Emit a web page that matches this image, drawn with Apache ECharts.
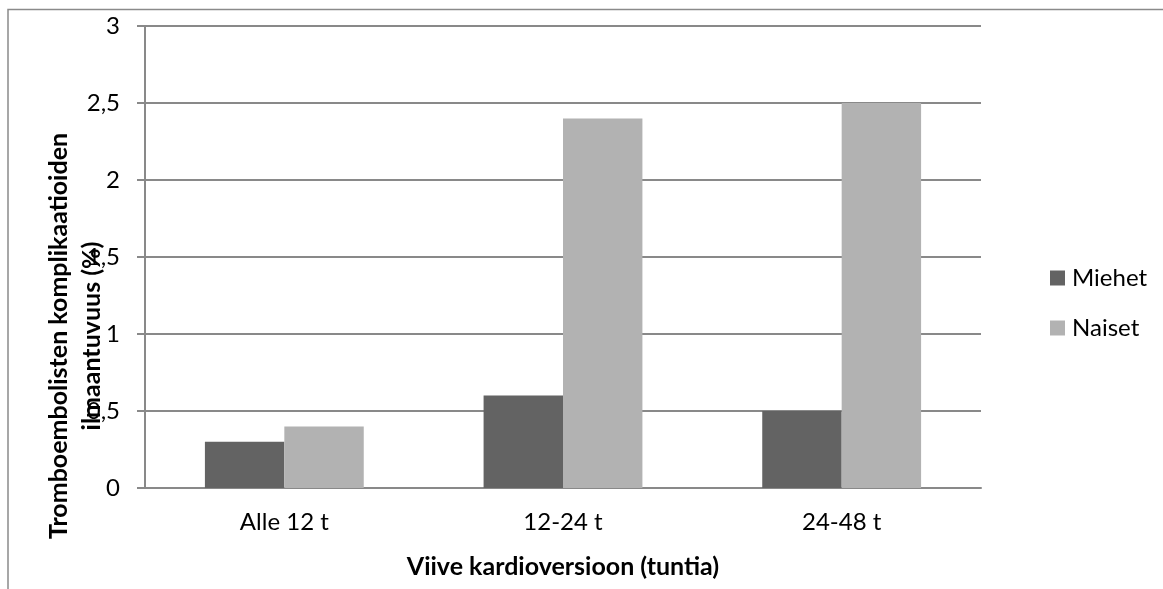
<!DOCTYPE html>
<html>
<head>
<meta charset="utf-8">
<script src="https://cdn.jsdelivr.net/npm/echarts@6/dist/echarts.min.js"></script>
<style>html,body{margin:0;padding:0;background:#fff}#c{width:1163px;height:589px}</style>
</head>
<body>
<div id="c"></div>
<script>
const categories = ['Alle 12 t', '12-24 t', '24-48 t'];
const miehet = [0.3, 0.6, 0.5];
const naiset = [0.4, 2.4, 2.5];
const seriesNames = ['Miehet', 'Naiset'];
const xTitle = 'Viive kardioversioon (tuntia)';
const yTitle = ['Tromboembolisten komplikaatioiden', 'ilmaantuvuus (%)'];

const FONT = 'Lato';
const grid = '#898989';
const chart = echarts.init(document.getElementById('c'), null, {renderer: 'canvas'});
chart.setOption({
  animation: false,
  textStyle: {fontFamily: FONT},
  grid: {left: 145, right: 182, top: 26, bottom: 101, containLabel: false},
  legend: {
    orient: 'vertical', left: 1050, top: 263, padding: 0,
    itemWidth: 15, itemHeight: 15, itemGap: 20,
    icon: 'rect',
    textStyle: {fontFamily: FONT, fontSize: 24, color: '#000', lineHeight: 30, padding: [0,0,0,2]},
    data: seriesNames
  },
  xAxis: {
    type: 'category', data: categories,
    axisLine: {lineStyle: {color: grid, width: 2}},
    axisTick: {show: false},
    axisLabel: {color: '#000', fontSize: 24, margin: 22, fontFamily: FONT},
    name: xTitle, nameLocation: 'middle', nameGap: 66,
    nameTextStyle: {color: '#000', fontSize: 25, fontWeight: 'bold', fontFamily: FONT}
  },
  yAxis: {
    type: 'value', min: 0, max: 3, interval: 0.5,
    axisLine: {show: true, lineStyle: {color: grid, width: 2}},
    axisTick: {show: true, length: 8, lineStyle: {color: grid, width: 2}},
    splitLine: {lineStyle: {color: grid, width: 2}},
    axisLabel: {color: '#000', fontSize: 24, margin: 25, fontFamily: FONT,
      formatter: v => String(v).replace('.', ',')}
  },
  series: [
    {name: seriesNames[0], type: 'bar', data: miehet, barGap: 0, barCategoryGap: '43%',
     itemStyle: {color: '#636363'}},
    {name: seriesNames[1], type: 'bar', data: naiset, barGap: 0, barCategoryGap: '43%',
     itemStyle: {color: '#b2b2b2'}}
  ],
  graphic: [
    {type: 'rect', shape: {x: 8, y: 9.5, width: 1300, height: 800}, silent: true,
     style: {fill: 'none', stroke: '#8a8a8a', lineWidth: 1.5}},
    {type: 'text', x: 75, y: 336, rotation: Math.PI / 2, silent: true,
     style: {text: yTitle.join('\n'), fontFamily: FONT, fontSize: 25, fontWeight: 'bold',
       lineHeight: 33, fill: '#000', textAlign: 'center', textVerticalAlign: 'middle'}}
  ]
});
</script>
</body>
</html>
